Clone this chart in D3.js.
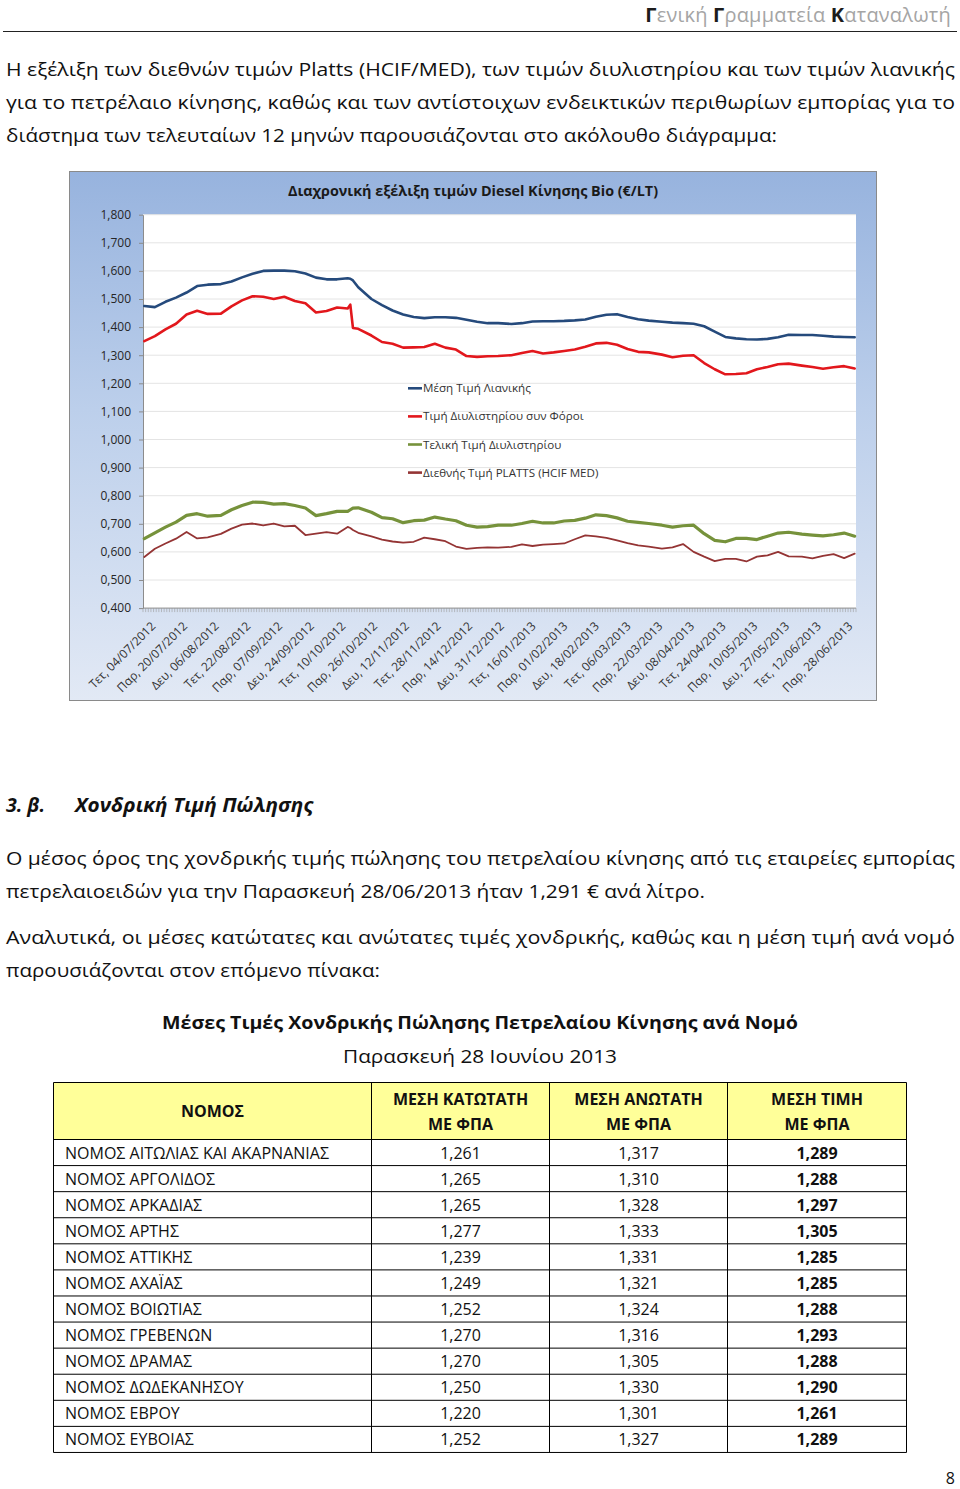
<!DOCTYPE html>
<html><head><meta charset="utf-8">
<script src="https://cdn.jsdelivr.net/npm/d3@7"></script>
<style>html,body{margin:0;padding:0;background:#fff;overflow:hidden}svg{display:block}</style>
</head><body>
<script>
// ---------------- DATA ----------------
const headerParts = [
  {t:"Γ", dark:true},{t:"ενική ", dark:false},{t:"Γ", dark:true},
  {t:"ραμματεία ", dark:false},{t:"Κ", dark:true},{t:"αταναλωτή", dark:false}
];
const para1 = [
  "Η εξέλιξη των διεθνών τιμών Platts (HCIF/MED), των τιμών διυλιστηρίου και των τιμών λιανικής",
  "για το πετρέλαιο κίνησης, καθώς και των αντίστοιχων ενδεικτικών περιθωρίων εμπορίας για το",
  "διάστημα των τελευταίων 12 μηνών παρουσιάζονται στο ακόλουθο διάγραμμα:"
];
const chartTitle = "Διαχρονική  εξέλιξη τιμών Diesel Κίνησης Bio (€/LT)";
const seriesNames = ["Μέση Τιμή Λιανικής","Τιμή Διυλιστηρίου συν Φόροι","Τελική Τιμή Διυλιστηρίου","Διεθνής Τιμή PLATTS (HCIF MED)"];
const yTicks = [0.4,0.5,0.6,0.7,0.8,0.9,1.0,1.1,1.2,1.3,1.4,1.5,1.6,1.7,1.8];
const tickLabels = ["Τετ, 04/07/2012","Παρ, 20/07/2012","Δευ, 06/08/2012","Τετ, 22/08/2012","Παρ, 07/09/2012",
  "Δευ, 24/09/2012","Τετ, 10/10/2012","Παρ, 26/10/2012","Δευ, 12/11/2012","Τετ, 28/11/2012","Παρ, 14/12/2012",
  "Δευ, 31/12/2012","Τετ, 16/01/2013","Παρ, 01/02/2013","Δευ, 18/02/2013","Τετ, 06/03/2013","Παρ, 22/03/2013",
  "Δευ, 08/04/2013","Τετ, 24/04/2013","Παρ, 10/05/2013","Δευ, 27/05/2013","Τετ, 12/06/2013","Παρ, 28/06/2013"];
// category slot (trading day index) of each sampled value
const sampleSlots = [0,4,8,12,16,20,24,29,33,37,41,45,49,53,57,61,65,69,73,77,78,79,81,86,90,94,98,102,106,110,114,118,122,126,130,134,
  139,143,147,151,155,159,163,167,171,175,179,183,187,191,196,200,204,208,212,216,220,224,228,232,236,240,244,249,253,257,261,265,269];
const retail = [1.475,1.471,1.490,1.505,1.523,1.546,1.551,1.553,1.562,1.577,1.590,1.600,1.601,1.601,1.599,1.591,1.576,1.570,1.570,1.574,1.572,1.566,
  1.542,1.500,1.478,1.459,1.445,1.436,1.432,1.435,1.435,1.433,1.426,1.419,1.414,1.414,1.411,1.414,1.420,1.421,1.421,1.422,
  1.424,1.427,1.437,1.444,1.446,1.436,1.428,1.423,1.419,1.416,1.414,1.412,1.403,1.384,1.365,1.360,1.357,1.356,1.358,1.364,
  1.373,1.372,1.372,1.369,1.366,1.365,1.364];
const refineryTax = [1.350,1.368,1.392,1.412,1.445,1.458,1.447,1.448,1.474,1.495,1.510,1.508,1.500,1.508,1.493,1.485,1.452,1.457,1.470,1.466,1.480,1.397,
  1.394,1.370,1.347,1.341,1.327,1.328,1.329,1.341,1.327,1.320,1.297,1.294,1.296,1.297,1.300,1.308,1.315,1.306,1.310,1.315,
  1.320,1.330,1.342,1.344,1.337,1.322,1.312,1.310,1.302,1.293,1.298,1.300,1.272,1.250,1.232,1.233,1.236,1.250,1.258,1.268,
  1.270,1.263,1.258,1.252,1.257,1.261,1.253];
const refineryFinal = [0.647,0.668,0.688,0.706,0.730,0.736,0.727,0.730,0.750,0.765,0.777,0.776,0.770,0.772,0.765,0.756,0.729,0.736,0.744,0.744,0.750,0.756,
  0.757,0.741,0.722,0.718,0.704,0.711,0.713,0.724,0.717,0.711,0.695,0.688,0.690,0.695,0.695,0.701,0.709,0.703,0.703,0.710,
  0.712,0.720,0.732,0.729,0.721,0.709,0.705,0.701,0.695,0.688,0.693,0.695,0.665,0.641,0.636,0.648,0.648,0.644,0.656,0.667,
  0.670,0.663,0.660,0.657,0.661,0.667,0.656];
const platts = [0.582,0.611,0.630,0.647,0.671,0.648,0.652,0.664,0.683,0.697,0.701,0.694,0.701,0.691,0.693,0.660,0.665,0.670,0.665,0.689,0.685,0.678,
  0.668,0.655,0.644,0.637,0.633,0.636,0.651,0.645,0.638,0.619,0.611,0.614,0.616,0.615,0.618,0.627,0.621,0.626,0.628,0.630,
  0.645,0.659,0.655,0.650,0.641,0.631,0.623,0.619,0.612,0.616,0.628,0.600,0.583,0.567,0.575,0.575,0.566,0.583,0.588,0.600,
  0.584,0.583,0.577,0.586,0.592,0.578,0.594];
const sectionNum = "3. β.";
const sectionTitle = "Χονδρική Τιμή Πώλησης";
const para2 = [
  "Ο μέσος όρος της χονδρικής τιμής πώλησης του πετρελαίου κίνησης από τις εταιρείες εμπορίας",
  "πετρελαιοειδών για την Παρασκευή 28/06/2013 ήταν 1,291 € ανά λίτρο."
];
const para3 = [
  "Αναλυτικά, οι μέσες κατώτατες και ανώτατες τιμές χονδρικής, καθώς και η μέση τιμή ανά νομό",
  "παρουσιάζονται στον επόμενο πίνακα:"
];
const tableTitle = "Μέσες Τιμές Χονδρικής Πώλησης Πετρελαίου Κίνησης ανά Νομό";
const tableSubtitle = "Παρασκευή 28 Ιουνίου 2013";
const tableHeaders = [["ΝΟΜΟΣ"],["ΜΕΣΗ ΚΑΤΩΤΑΤΗ","ΜΕ ΦΠΑ"],["ΜΕΣΗ ΑΝΩΤΑΤΗ","ΜΕ ΦΠΑ"],["ΜΕΣΗ ΤΙΜΗ","ΜΕ ΦΠΑ"]];
const prefectures = ["ΝΟΜΟΣ ΑΙΤΩΛΙΑΣ ΚΑΙ ΑΚΑΡΝΑΝΙΑΣ","ΝΟΜΟΣ ΑΡΓΟΛΙΔΟΣ","ΝΟΜΟΣ ΑΡΚΑΔΙΑΣ","ΝΟΜΟΣ ΑΡΤΗΣ","ΝΟΜΟΣ ΑΤΤΙΚΗΣ",
  "ΝΟΜΟΣ ΑΧΑΪΑΣ","ΝΟΜΟΣ ΒΟΙΩΤΙΑΣ","ΝΟΜΟΣ ΓΡΕΒΕΝΩΝ","ΝΟΜΟΣ ΔΡΑΜΑΣ","ΝΟΜΟΣ ΔΩΔΕΚΑΝΗΣΟΥ","ΝΟΜΟΣ ΕΒΡΟΥ","ΝΟΜΟΣ ΕΥΒΟΙΑΣ"];
const minPrice = [1.261,1.265,1.265,1.277,1.239,1.249,1.252,1.270,1.270,1.250,1.220,1.252];
const maxPrice = [1.317,1.310,1.328,1.333,1.331,1.321,1.324,1.316,1.305,1.330,1.301,1.327];
const avgPrice = [1.289,1.288,1.297,1.305,1.285,1.285,1.288,1.293,1.288,1.290,1.261,1.289];
const pageNumber = "8";

// ---------------- LAYOUT ----------------
const W = 960, H = 1489;
const FONT = "'Open Sans','Noto Sans','DejaVu Sans',sans-serif";
const svg = d3.select("body").append("svg").attr("width", W).attr("height", H)
  .style("font-family", FONT);
const comma = v => d3.format(".3f")(v).replace(".", ",");

// header (single text, tspans flow naturally)
const hdr = svg.append("text").attr("x", 951).attr("y", 22).attr("font-size", 20)
  .attr("text-anchor", "end").attr("letter-spacing", 0.2);
hdr.selectAll("tspan").data(headerParts).join("tspan")
  .text(d => d.t).attr("fill", d => d.dark ? "#1c1c1c" : "#a5a5a5")
  .attr("font-weight", d => d.dark ? 700 : 400);
svg.append("line").attr("x1", 3).attr("x2", 957).attr("y1", 31.5).attr("y2", 31.5)
  .attr("stroke", "#222").attr("stroke-width", 1);

function paragraph(lines, x0, y0, lastWidth, fullWidth, lh) {
  lines.forEach((t, i) => {
    const last = i === lines.length - 1;
    svg.append("text").attr("x", x0).attr("y", y0 + i * lh).attr("font-size", 18)
      .attr("fill", "#111").text(t)
      .attr("textLength", last ? lastWidth : fullWidth)
      .attr("lengthAdjust", "spacingAndGlyphs");
  });
}
paragraph(para1, 6, 76, 771, 949, 33);

// ---------------- CHART ----------------
const box = {l: 69.5, t: 171.5, r: 876.5, b: 700.5};
const plot = {l: 143, t: 214.7, r: 856, b: 608.1};
const nCats = 270;
const defs = svg.append("defs");
const grad = defs.append("linearGradient").attr("id", "bg").attr("x1", 0).attr("y1", 0).attr("x2", 0).attr("y2", 1);
grad.append("stop").attr("offset", "0%").attr("stop-color", "#97b3de");
grad.append("stop").attr("offset", "45%").attr("stop-color", "#bccfeb");
grad.append("stop").attr("offset", "100%").attr("stop-color", "#e2e9f5");
svg.append("rect").attr("x", box.l).attr("y", box.t).attr("width", box.r - box.l).attr("height", box.b - box.t)
  .attr("fill", "url(#bg)").attr("stroke", "#8a8a8a").attr("stroke-width", 1);
svg.append("rect").attr("x", plot.l).attr("y", plot.t).attr("width", plot.r - plot.l).attr("height", plot.b - plot.t)
  .attr("fill", "#fff");

const y = d3.scaleLinear().domain([0.4, 1.8]).range([plot.b, plot.t]);
const xc = d3.scaleLinear().domain([0, nCats]).range([plot.l, plot.r]);
const xMid = s => xc(s + 0.5);

// gridlines
svg.append("g").selectAll("line").data(yTicks.slice(1)).join("line")
  .attr("x1", plot.l).attr("x2", plot.r).attr("y1", d => y(d)).attr("y2", d => y(d))
  .attr("stroke", "#e4e4e4").attr("stroke-width", 1);

// y axis
const yAxis = svg.append("g").attr("transform", `translate(${plot.l},0)`)
  .call(d3.axisLeft(y).tickValues(yTicks).tickFormat(comma).tickSize(4).tickSizeOuter(0).tickPadding(8));
yAxis.select(".domain").attr("stroke", "#8c8c8c");
yAxis.selectAll(".tick line").attr("stroke", "#8c8c8c");
yAxis.selectAll("text").attr("font-size", 12).attr("fill", "#262626").attr("font-family", FONT);

// x axis: baseline + category tick marks
svg.append("line").attr("x1", plot.l).attr("x2", plot.r).attr("y1", plot.b).attr("y2", plot.b)
  .attr("stroke", "#8c8c8c");
svg.append("g").selectAll("line").data(d3.range(nCats + 1)).join("line")
  .attr("x1", d => xc(d)).attr("x2", d => xc(d)).attr("y1", plot.b).attr("y2", plot.b + 4)
  .attr("stroke", "#9a9a9a").attr("stroke-width", 0.6);
svg.append("g").selectAll("text").data(tickLabels).join("text")
  .attr("transform", (d, k) => `translate(${xMid(k * 12) + 12},627) rotate(-45)`)
  .attr("text-anchor", "end").attr("font-size", 12).attr("fill", "#333").text(d => d);

// series
const series = [
  {name: seriesNames[0], values: retail, color: "#254a7c", w: 2.6},
  {name: seriesNames[1], values: refineryTax, color: "#e2171c", w: 2.6},
  {name: seriesNames[2], values: refineryFinal, color: "#76923b", w: 3.2},
  {name: seriesNames[3], values: platts, color: "#943434", w: 1.8}
];
const line = d3.line().x((d, i) => xMid(sampleSlots[i])).y(d => y(d)).curve(d3.curveLinear);
svg.append("g").selectAll("path").data(series).join("path")
  .attr("d", d => line(d.values)).attr("fill", "none")
  .attr("stroke", d => d.color).attr("stroke-width", d => d.w)
  .attr("stroke-linejoin", "round").attr("stroke-linecap", "round");

// title
svg.append("text").attr("x", 288).attr("y", 196).attr("font-size", 15).attr("font-weight", 700)
  .attr("fill", "#1a1a1a").attr("textLength", 370).attr("lengthAdjust", "spacingAndGlyphs").text(chartTitle);

// legend
const lg = svg.append("g").selectAll("g").data(series).join("g")
  .attr("transform", (d, i) => `translate(408,${388.3 + i * 28.1})`);
lg.append("line").attr("x1", 0).attr("x2", 14).attr("stroke", d => d.color).attr("stroke-width", 2.6);
lg.append("text").attr("x", 15).attr("dy", "0.35em").attr("font-size", 11.6).attr("fill", "#333").text(d => d.name);

// ---------------- SECTION ----------------
svg.append("text").attr("x", 6).attr("y", 812).attr("font-size", 19.5).attr("font-weight", 700)
  .attr("font-style", "italic").attr("fill", "#111").text(sectionNum);
svg.append("text").attr("x", 75).attr("y", 812).attr("font-size", 19.5).attr("font-weight", 700)
  .attr("font-style", "italic").attr("fill", "#111").attr("textLength", 238)
  .attr("lengthAdjust", "spacingAndGlyphs").text(sectionTitle);

paragraph(para2, 6, 865, 699, 949, 33);
paragraph(para3, 6, 944, 374, 949, 33);

svg.append("text").attr("x", 162).attr("y", 1029).attr("font-size", 18.5).attr("font-weight", 700)
  .attr("fill", "#111").attr("textLength", 636).attr("lengthAdjust", "spacingAndGlyphs").text(tableTitle);
svg.append("text").attr("x", 343).attr("y", 1063).attr("font-size", 18.5)
  .attr("fill", "#111").attr("textLength", 274).attr("lengthAdjust", "spacingAndGlyphs").text(tableSubtitle);

// ---------------- TABLE ----------------
const colX = [53.5, 371.5, 549.5, 727.5, 906.5];
const headTop = 1082.5, headBot = 1139.5;
const rowH = 26.08;
const rowY = i => headBot + i * rowH;
const tbl = svg.append("g");
tbl.append("rect").attr("x", colX[0]).attr("y", headTop).attr("width", colX[4] - colX[0])
  .attr("height", headBot - headTop).attr("fill", "#ffff99");
const hLines = [headTop].concat(d3.range(prefectures.length + 1).map(rowY));
tbl.selectAll("line.h").data(hLines).join("line").attr("class", "h")
  .attr("x1", colX[0]).attr("x2", colX[4]).attr("y1", d => d).attr("y2", d => d)
  .attr("stroke", "#000").attr("stroke-width", 1);
tbl.selectAll("line.v").data(colX).join("line").attr("class", "v")
  .attr("x1", d => d).attr("x2", d => d).attr("y1", headTop).attr("y2", rowY(prefectures.length))
  .attr("stroke", "#000").attr("stroke-width", 1);
tableHeaders.forEach((h, c) => {
  const cx = (colX[c] + colX[c + 1]) / 2;
  h.forEach((t, k) => {
    const yy = h.length === 1 ? 1117 : 1105 + k * 24.5;
    tbl.append("text").attr("x", cx).attr("y", yy).attr("text-anchor", "middle")
      .attr("font-size", 16).attr("font-weight", 700).attr("fill", "#111").text(t);
  });
});
prefectures.forEach((p, i) => {
  const by = rowY(i) + rowH / 2 + 6;
  tbl.append("text").attr("x", 65).attr("y", by).attr("font-size", 16).attr("fill", "#111").text(p);
  [minPrice[i], maxPrice[i], avgPrice[i]].forEach((v, c) => {
    tbl.append("text").attr("x", (colX[c + 1] + colX[c + 2]) / 2).attr("y", by)
      .attr("text-anchor", "middle").attr("font-size", 16)
      .attr("font-weight", c === 2 ? 700 : 400).attr("fill", "#111").text(comma(v));
  });
});

svg.append("text").attr("x", 955).attr("y", 1484).attr("text-anchor", "end").attr("font-size", 16)
  .attr("fill", "#111").text(pageNumber);
</script>
</body></html>
